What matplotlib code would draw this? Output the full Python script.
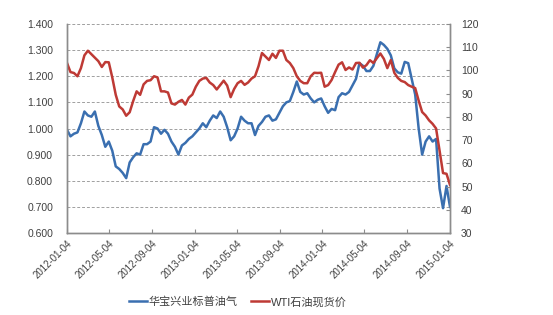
import numpy as np
import pandas as pd
import matplotlib
matplotlib.use('Agg')
import matplotlib.pyplot as plt
import matplotlib.dates as mdates

plt.rcParams['font.family'] = ['Liberation Sans', 'Noto Sans CJK SC', 'DejaVu Sans']

# sampling dates, roughly every 10 days
dates = pd.date_range('2012-01-04', '2015-01-04', periods=111)

# 华宝兴业标普油气 (left axis)
fund = [0.995, 0.97, 0.98, 0.985, 1.02, 1.065, 1.05, 1.045, 1.065, 1.01,
        0.975, 0.93, 0.95, 0.915, 0.855, 0.845, 0.83, 0.81, 0.87, 0.89,
        0.905, 0.90, 0.94, 0.94, 0.95, 1.005, 1.00, 0.98, 0.995, 0.98,
        0.95, 0.93, 0.90, 0.935, 0.945, 0.96, 0.97, 0.985, 1.00, 1.02,
        1.005, 1.03, 1.05, 1.04, 1.065, 1.045, 1.005, 0.955, 0.97, 1.00,
        1.045, 1.03, 1.02, 1.02, 0.975, 1.01, 1.025, 1.045, 1.05, 1.03,
        1.035, 1.06, 1.085, 1.10, 1.105, 1.14, 1.18, 1.14, 1.13, 1.135,
        1.115, 1.10, 1.11, 1.115, 1.085, 1.06, 1.075, 1.07, 1.12, 1.135,
        1.13, 1.14, 1.165, 1.19, 1.25, 1.24, 1.22, 1.22, 1.24, 1.285,
        1.33, 1.32, 1.305, 1.28, 1.23, 1.215, 1.21, 1.255, 1.25, 1.19,
        1.13, 1.00, 0.90, 0.95, 0.97, 0.95, 0.96, 0.77, 0.695, 0.78,
        0.70]

# WTI石油现货价 (right axis)
wti = [103.2, 99.3, 98.9, 97.5, 101.0, 106.5, 108.5, 107.0, 105.5, 104.0,
       101.5, 103.6, 103.5, 97.0, 89.5, 84.5, 83.2, 80.5, 82.0, 86.8,
       91.0, 89.5, 94.0, 95.5, 95.8, 97.5, 97.0, 91.0, 91.0, 90.5,
       85.8, 85.3, 86.5, 87.3, 85.3, 88.3, 89.6, 93.0, 95.5, 96.5,
       96.8, 94.8, 93.7, 91.8, 93.7, 95.6, 93.5, 88.5, 92.0, 94.5,
       95.5, 93.8, 94.8, 96.5, 97.5, 101.8, 107.5, 106.0, 104.5, 107.2,
       105.4, 108.5, 108.5, 104.5, 103.2, 101.0, 97.5, 95.5, 94.5, 94.5,
       97.5, 99.0, 98.9, 99.0, 93.0, 93.7, 95.9, 99.3, 102.5, 103.5,
       100.2, 101.3, 100.4, 103.2, 103.3, 101.2, 102.3, 104.4, 103.2, 105.3,
       107.3, 105.0, 101.0, 104.5, 99.0, 96.8, 95.5, 95.0, 93.7, 93.0,
       92.4, 87.0, 82.1, 80.6, 78.5, 77.0, 75.0, 65.5, 55.8, 55.5,
       50.7]

tick_dates = ['2012-01-04', '2012-05-04', '2012-09-04', '2013-01-04', '2013-05-04',
              '2013-09-04', '2014-01-04', '2014-05-04', '2014-09-04', '2015-01-04']

blue = '#3A6FB0'
red = '#BE3A35'
txt = '#404040'
axc = '#8C8C8C'

fig = plt.figure(figsize=(5.53, 3.15), dpi=100)
ax = fig.add_axes([67/553, 1-233/315, 383/553, 209/315])
ax2 = ax.twinx()

l1, = ax.plot(dates, fund, color=blue, lw=1.8, label='华宝兴业标普油气')
l2, = ax2.plot(dates, wti, color=red, lw=1.8, label='WTI石油现货价')

ax.set_ylim(0.6, 1.4)
ax.set_yticks(np.arange(0.6, 1.401, 0.1))
ax.yaxis.set_major_formatter(matplotlib.ticker.FormatStrFormatter('%.3f'))
ax2.set_ylim(30, 120)
ax2.set_yticks(np.arange(30, 121, 10))

ax.set_xlim(pd.Timestamp('2012-01-04'), pd.Timestamp('2015-01-04'))
ax.set_xticks(pd.to_datetime(tick_dates))
ax.xaxis.set_major_formatter(mdates.DateFormatter('%Y-%m-%d'))
for lab in ax.get_xticklabels():
    lab.set_rotation(45)
    lab.set_ha('right')
    lab.set_rotation_mode('anchor')

ax.grid(axis='y', linestyle=(0, (3, 2)), color='#A0A0A0', lw=0.7)
ax.set_axisbelow(True)

for a in (ax, ax2):
    a.spines['top'].set_visible(False)
    for s in ('left', 'bottom', 'right'):
        a.spines[s].set_color(axc)
        a.spines[s].set_linewidth(1.0)

ax.tick_params(axis='x', direction='in', length=3, color=axc, labelsize=7, labelcolor=txt, pad=4)
ax.tick_params(axis='y', length=0, labelsize=7.5, labelcolor=txt, pad=10)
ax2.tick_params(axis='y', direction='in', length=3, color=axc, labelsize=7.5, labelcolor=txt, pad=8)

fig.legend(handles=[l1, l2], loc='center', bbox_to_anchor=(238/553, 1-302/315), ncol=2,
           frameon=False, fontsize=8, handlelength=1.6, handletextpad=0.2,
           columnspacing=1.2, labelcolor=txt)

fig.savefig('out.png', dpi=100)
